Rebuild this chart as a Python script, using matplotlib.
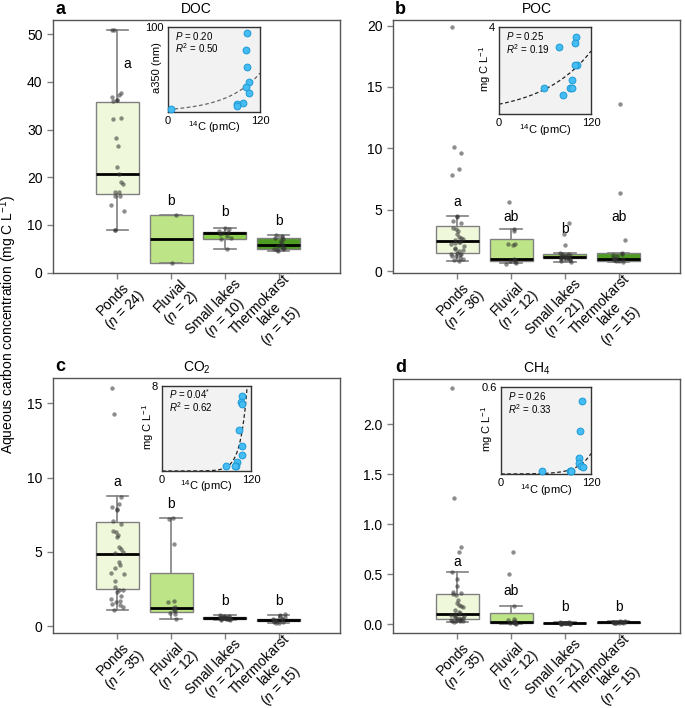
import numpy as np
import matplotlib
matplotlib.use("Agg")
import matplotlib.pyplot as plt
from matplotlib.transforms import ScaledTranslation

plt.rcParams['font.family'] = ['Liberation Sans', 'DejaVu Sans']
plt.rcParams['mathtext.fontset'] = 'custom'
plt.rcParams['mathtext.rm'] = 'Liberation Sans'
plt.rcParams['mathtext.it'] = 'Liberation Sans:italic'
plt.rcParams['mathtext.bf'] = 'Liberation Sans:bold'

# ---------------- data ----------------
categories = ["Ponds", "Fluvial", "Small lakes", "Thermokarst\nlake"]
box_colors = ["#eff8da", "#bde487", "#8ccf4c", "#4e9c22"]

# Panel a: DOC
doc_n = [24, 2, 10, 15]
doc_ponds = [51.0, 51.0, 37.7, 37.2, 36.8, 36.3, 36.3, 35.9, 32.4, 32.3, 28.2, 26.5,
             22.1, 20.6, 19.0, 18.6, 16.9, 16.9, 16.0, 16.0, 14.1, 13.0, 9.0, 9.0]
doc_fluvial = [12.0, 2.1]
doc_small = [9.3, 9.2, 8.8, 8.6, 8.4, 8.1, 7.7, 7.3, 7.0, 4.9]
doc_thermo = [7.8, 7.7, 7.4, 7.2, 7.0, 6.6, 6.2, 5.8, 5.6, 5.3, 5.1, 4.9, 4.9, 4.7, 4.5]
# box stats: (whislo, q1, med, q3, whishi)
doc_stats = [(9.0, 16.4, 20.7, 35.7, 51.0), (2.1, 2.1, 7.05, 12.0, 12.0),
             (4.9, 7.0, 8.2, 8.6, 9.3), (4.5, 4.9, 5.8, 7.2, 7.8)]
doc_letters = ["a", "b", "b", "b"]
doc_letter_y = [43.8, 15.0, 12.8, 10.9]

# Panel b: POC
poc_n = [36, 12, 21, 15]
poc_ponds = [19.9, 10.1, 9.6, 8.3, 7.8, 4.5, 4.4, 4.1, 3.9, 3.5, 3.4, 3.3, 3.0, 2.8, 2.7,
             2.6, 2.5, 2.4, 2.35, 2.3, 2.2, 2.0, 1.9, 1.8, 1.7, 1.6, 1.5, 1.4, 1.35, 1.3,
             1.25, 1.2, 1.1, 1.0, 0.9, 0.85]
poc_fluvial = [5.6, 3.4, 3.3, 2.2, 2.2, 2.1, 1.0, 0.9, 0.8, 0.7, 0.65, 0.6]
poc_small = [3.95, 3.0, 2.1, 1.45, 1.4, 1.35, 1.3, 1.25, 1.2, 1.2, 1.15, 1.15, 1.1, 1.1,
             1.05, 1.0, 1.0, 0.95, 0.9, 0.8, 0.75]
poc_thermo = [13.6, 6.4, 2.5, 1.45, 1.4, 1.3, 1.2, 1.1, 1.0, 1.0, 0.95, 0.9, 0.85, 0.8, 0.72]
poc_stats = [(0.84, 1.5, 2.45, 3.7, 4.5), (0.63, 0.84, 1.0, 2.6, 3.4),
             (0.76, 1.03, 1.17, 1.36, 1.44), (0.71, 0.84, 1.0, 1.45, 1.45)]
poc_letters = ["a", "ab", "b", "ab"]
poc_letter_y = [5.65, 4.43, 3.4, 4.43]

# Panel c: CO2
co2_n = [35, 12, 21, 15]
co2_ponds = [16.0, 14.3, 8.7, 8.2, 8.0, 7.9, 7.8, 7.1, 6.9, 6.4, 6.3, 6.1, 6.0, 5.3, 5.2,
             5.0, 4.9, 4.3, 4.1, 3.9, 3.6, 3.5, 3.0, 2.6, 2.4, 2.4, 2.3, 2.0, 1.8, 1.7,
             1.6, 1.5, 1.4, 1.3, 1.1]
co2_fluvial = [7.25, 7.2, 5.5, 1.7, 1.6, 1.3, 1.2, 1.1, 1.0, 0.9, 0.8, 0.5]
co2_small = [0.72, 0.68, 0.65, 0.62, 0.6, 0.6, 0.58, 0.57, 0.56, 0.55, 0.55, 0.54, 0.53,
             0.52, 0.5, 0.5, 0.48, 0.47, 0.45, 0.43, 0.4]
co2_thermo = [0.8, 0.75, 0.7, 0.6, 0.5, 0.47, 0.45, 0.42, 0.4, 0.38, 0.35, 0.3, 0.28, 0.22, 0.2]
co2_stats = [(1.08, 2.5, 4.85, 7.0, 8.75), (0.47, 0.92, 1.23, 3.55, 7.25),
             (0.38, 0.45, 0.53, 0.6, 0.75), (0.2, 0.32, 0.4, 0.5, 0.75)]
co2_letters = ["a", "b", "b", "b"]
co2_letter_y = [9.68, 8.2, 1.7, 1.7]

# Panel d: CH4
ch4_n = [35, 12, 21, 15]
ch4_ponds = [2.36, 1.26, 0.77, 0.72, 0.52, 0.45, 0.38, 0.32, 0.31, 0.30, 0.29, 0.24, 0.21,
             0.19, 0.18, 0.17, 0.14, 0.12, 0.11, 0.10, 0.09, 0.08, 0.08, 0.07, 0.06, 0.06,
             0.05, 0.05, 0.04, 0.04, 0.035, 0.03, 0.03, 0.03, 0.025]
ch4_fluvial = [0.72, 0.5, 0.18, 0.05, 0.04, 0.03, 0.02, 0.02, 0.015, 0.01, 0.01, 0.005]
ch4_small = [0.02, 0.018, 0.016, 0.015, 0.014, 0.013, 0.012, 0.012, 0.011, 0.011, 0.01,
             0.01, 0.01, 0.009, 0.009, 0.008, 0.008, 0.007, 0.006, 0.005, 0.004]
ch4_thermo = [0.03, 0.028, 0.026, 0.025, 0.024, 0.022, 0.021, 0.02, 0.019, 0.018, 0.017,
              0.016, 0.015, 0.014, 0.012]
ch4_stats = [(0.026, 0.056, 0.105, 0.30, 0.52), (0.005, 0.01, 0.02, 0.11, 0.18),
             (0.004, 0.008, 0.01, 0.013, 0.02), (0.012, 0.016, 0.02, 0.024, 0.03)]
ch4_letters = ["a", "ab", "b", "b"]
ch4_letter_y = [0.62, 0.33, 0.176, 0.176]

# Insets: 14C (pmC) vs concentration
ins_doc_x = [4, 103, 101.5, 103.5, 105, 101.5, 105, 98, 90.5, 89.5]
ins_doc_y = [3, 93.5, 73.5, 53, 35.5, 29.5, 22.5, 11, 9.5, 7.5]
ins_doc_fit = (3.0, 0.0227)
ins_poc_x = [78.8, 100.7, 98.5, 101.6, 98.5, 95.5, 58.7, 83.2, 92.8, 95.0]
ins_poc_y = [3.06, 3.54, 3.26, 2.26, 2.23, 1.57, 1.18, 0.89, 1.18, 1.18]
ins_poc_fit = (0.45, 0.0155)
ins_co2_x = [108, 107, 107.5, 103.7, 108, 108, 100.5, 99.5, 98, 86]
ins_co2_y = [7.07, 6.48, 6.32, 3.9, 2.36, 1.54, 0.87, 0.5, 0.45, 0.5]
ins_co2_fit = (2.6e-5, 0.11)
ins_ch4_x = [108, 105, 104, 104.5, 107, 109, 54.5, 92.2, 93.5, 92.8]
ins_ch4_y = [0.504, 0.294, 0.111, 0.078, 0.056, 0.05, 0.022, 0.02, 0.018, 0.019]
ins_ch4_fit = (0.00016, 0.0565)

stats_text = [("0.20", "0.50"), ("0.25", "0.19"), ("0.04$^{*}$", "0.62"), ("0.26", "0.33")]

# ---------------- figure ----------------
W, H = 685, 708
fig = plt.figure(figsize=(W / 100, H / 100), dpi=100)


def px_axes(l, t, r, b):
    return fig.add_axes([l / W, 1 - b / H, (r - l) / W, (b - t) / H])


GRAY = "#808080"
FRAME = "#555555"


def draw_main(ax, groups, stats, ns, ylim, yticks, yticklabels, letters, letter_y, title, tpad):
    pos = np.arange(1, 5)
    bstats = []
    for (lo, q1, med, q3, hi) in stats:
        bstats.append(dict(whislo=lo, q1=q1, med=med, q3=q3, whishi=hi, fliers=[]))
    res = ax.bxp(bstats, positions=pos, widths=0.8, patch_artist=True, showfliers=False,
                 capwidths=0.4,
                 boxprops=dict(edgecolor=GRAY, linewidth=1.0),
                 whiskerprops=dict(color=GRAY, linewidth=1.2),
                 capprops=dict(color=GRAY, linewidth=1.2),
                 medianprops=dict(color="black", linewidth=2.0))
    for patch, c in zip(res["boxes"], box_colors):
        patch.set_facecolor(c)
    rng = np.random.default_rng(3)
    for p, vals in zip(pos, groups):
        vals = np.asarray(vals)
        jit = rng.uniform(-0.12, 0.12, len(vals))
        ax.scatter(p + jit, vals, s=10, color="#303030", alpha=0.55, linewidths=0, zorder=4)
    for p, lt, ly in zip(pos, letters, letter_y):
        dx = 0.18 if (p == 1 and title == "DOC") else 0
        ax.text(p + dx, ly, lt, ha="center", va="center", fontsize=10)
    ax.set_xlim(-0.2, 5.14)
    ax.set_ylim(*ylim)
    ax.set_yticks(yticks)
    ax.set_yticklabels(yticklabels)
    ax.set_xticks(pos)
    ax.set_xticklabels([])
    ax.tick_params(axis="both", length=4.5, width=1, color=GRAY, labelsize=10, pad=3)
    for s in ax.spines.values():
        s.set_color(FRAME)
        s.set_linewidth(1.0)
    off = ScaledTranslation(0.20, -0.15, fig.dpi_scale_trans)
    for p, cat, n in zip(pos, categories, ns):
        lab = f"{cat}\n($n$ = {n})"
        ax.text(p, 0, lab, transform=ax.get_xaxis_transform() + off, rotation=45,
                ha="right", va="center", rotation_mode="anchor", multialignment="center",
                fontsize=10, linespacing=1.05)
    ax.set_title(title, fontsize=10, pad=tpad)


def draw_inset(ax, x, y, fit, ymax, ylabel, ptxt, rtxt, lcolor):
    ax.set_facecolor("#f2f2f2")
    ax.set_xlim(0, 120)
    ax.set_ylim(0, ymax)
    xx = np.linspace(0, 120, 300)
    ax.plot(xx, fit[0] * np.exp(fit[1] * xx), linestyle=(0, (3, 2)), color=lcolor, lw=0.9, zorder=2)
    ax.scatter(x, y, s=24, facecolor="#45bdf2", edgecolor="#1e9ad6", linewidths=0.7,
               zorder=3, clip_on=False)
    ax.set_xticks([0, 120])
    ax.set_xticklabels(["0", "120"])
    ax.set_yticks([ymax])
    ax.set_yticklabels([f"{ymax:g}"])
    ax.tick_params(length=0, labelsize=8, pad=3)
    ax.set_xlabel("$^{14}$C (pmC)", fontsize=8)
    ax.xaxis.set_label_coords(0.5, -0.09)
    ax.set_ylabel(ylabel, fontsize=8)
    ax.yaxis.set_label_coords(-0.07, 0.52)
    for s in ax.spines.values():
        s.set_color("#333333")
        s.set_linewidth(1.0)
    ax.text(0.08, 0.90, f"$P$ = {ptxt}", transform=ax.transAxes, fontsize=7, va="center")
    ax.text(0.08, 0.75, f"$R^2$ = {rtxt}", transform=ax.transAxes, fontsize=7, va="center")


ax_a = px_axes(53, 20, 340, 273)
ax_b = px_axes(393, 20, 680, 273)
ax_c = px_axes(53, 378, 340, 633)
ax_d = px_axes(393, 379, 680, 633)

draw_main(ax_a, [doc_ponds, doc_fluvial, doc_small, doc_thermo], doc_stats, doc_n,
          (-0.1, 53.0), [0, 10, 20, 30, 40, 50], ["0", "10", "20", "30", "40", "50"],
          doc_letters, doc_letter_y, "DOC", 4.8)
draw_main(ax_b, [poc_ponds, poc_fluvial, poc_small, poc_thermo], poc_stats, poc_n,
          (-0.16, 20.46), [0, 5, 10, 15, 20], ["0", "5", "10", "15", "20"],
          poc_letters, poc_letter_y, "POC", 4.8)
draw_main(ax_c, [co2_ponds, co2_fluvial, co2_small, co2_thermo], co2_stats, co2_n,
          (-0.47, 16.7), [0, 5, 10, 15], ["0", "5", "10", "15"],
          co2_letters, co2_letter_y, "CO$_2$", 4.5)
draw_main(ax_d, [ch4_ponds, ch4_fluvial, ch4_small, ch4_thermo], ch4_stats, ch4_n,
          (-0.087, 2.45), [0, 0.5, 1.0, 1.5, 2.0], ["0.0", "0.5", "1.0", "1.5", "2.0"],
          ch4_letters, ch4_letter_y, "CH$_4$", 4.5)

in_a = px_axes(168, 27, 260, 112)
in_b = px_axes(499, 27, 591, 114)
in_c = px_axes(162, 386, 251, 471)
in_d = px_axes(501, 387, 591, 474)

draw_inset(in_a, ins_doc_x, ins_doc_y, ins_doc_fit, 100, "a350 (nm)", *stats_text[0], "#666666")
draw_inset(in_b, ins_poc_x, ins_poc_y, ins_poc_fit, 4, "mg C L$^{-1}$", *stats_text[1], "#222222")
draw_inset(in_c, ins_co2_x, ins_co2_y, ins_co2_fit, 8, "mg C L$^{-1}$", *stats_text[2], "#222222")
draw_inset(in_d, ins_ch4_x, ins_ch4_y, ins_ch4_fit, 0.6, "mg C L$^{-1}$", *stats_text[3], "#222222")

# panel letters
for lt, xp, yb in [("a", 55, 13.5), ("b", 395, 13.5), ("c", 55, 370.5), ("d", 395, 371.5)]:
    fig.text(xp / W, 1 - yb / H, lt, fontsize=13, fontweight="bold", va="baseline", ha="left")

fig.text(0.012, 1 - 325 / H, "Aqueous carbon concentration (mg C L$^{-1}$)", rotation=90,
         ha="center", va="center", fontsize=10)

fig.savefig("out.png", dpi=100)
